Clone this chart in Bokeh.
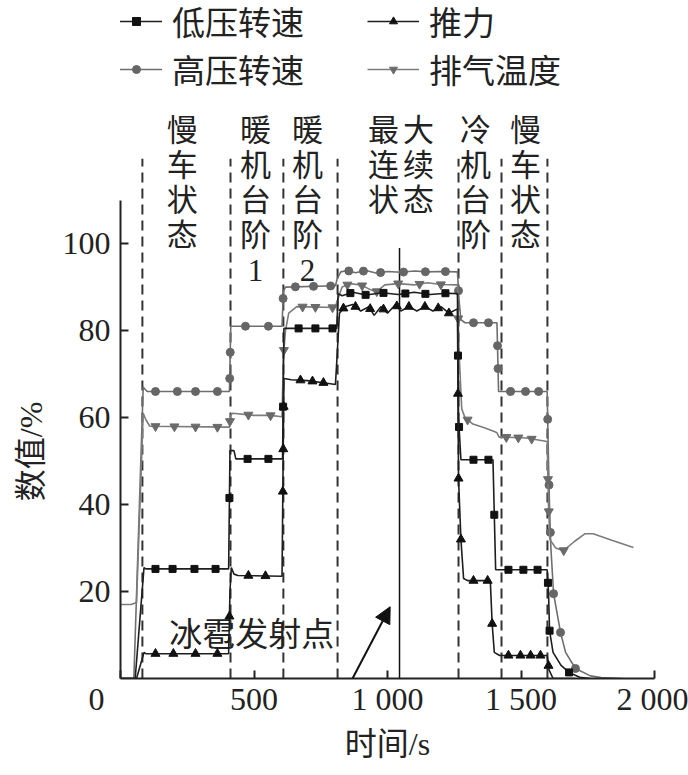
import numpy as np
from bokeh.plotting import figure
from bokeh.models import (Range1d, FixedTicker, Legend, LegendItem, Arrow, NormalHead)
from bokeh.core.properties import value
from bokeh.embed import file_html
from bokeh.resources import INLINE

MIX = "Liberation Serif, Noto Sans CJK SC"
SERIF = "Liberation Serif"

# ---------------- data (time in s, value in %) ----------------
lp_t = [0, 55, 88, 95, 405, 410, 425, 432, 607, 612, 810, 815, 830, 870, 920, 980, 1040, 1100, 1160, 1220, 1262,
        1266, 1275, 1395, 1405, 1598, 1603, 1607, 1620, 1650, 1680, 1720, 1760]
lp_v = [0, 0, 25.5, 25.2, 25.2, 52.4, 52.4, 50.5, 50.5, 80.5, 80.5, 88.5, 88.0, 88.8, 88.2, 88.7, 88.3, 88.8, 88.3, 88.6, 88.5,
        60, 50.3, 50.3, 25, 25, 20, 11, 6, 3, 1.4, 0.3, 0]
lp_mark_t = [131, 195, 277, 356, 408, 476, 554, 609, 667, 730, 794, 861, 918, 985, 1067, 1142, 1217, 1264, 1268,
             1322, 1378, 1400, 1453, 1509, 1562, 1601, 1607, 1680]

hp_t = [0, 50, 85, 92, 100, 408, 413, 605, 610, 618, 805, 812, 825, 850, 880, 920, 960, 1000, 1050, 1100, 1150, 1200, 1262,
        1268, 1275, 1290, 1410, 1416, 1598, 1603, 1607, 1612, 1622, 1648, 1667, 1704, 1760, 1800, 1880]
hp_v = [0, 0, 67, 66.5, 66, 66, 81, 81, 89, 90, 90.3, 92, 93.5, 93.8, 93.3, 93.8, 93.2, 93.6, 93.4, 93.7, 93.5, 93.6, 93.5,
        87, 82.5, 81.8, 81.8, 66, 66, 50, 39, 30, 19.5, 10.6, 6, 2.3, 0.6, 0.2, 0]
hp_mark_t = [131, 213, 281, 363, 409, 411, 468, 554, 609, 655, 723, 787, 855, 910, 974, 1060, 1142, 1217, 1266,
             1322, 1378, 1412, 1414, 1461, 1517, 1566, 1600, 1605, 1610, 1622, 1648, 1704]

et_t = [0, 40, 60, 85, 95, 110, 408, 412, 420, 500, 560, 605, 610, 618, 630, 660, 805, 810, 830, 860, 900, 940, 960, 990,
        1040, 1100, 1150, 1200, 1262, 1268, 1278, 1290, 1320, 1360, 1400, 1410, 1418, 1440, 1520, 1598, 1603, 1608,
        1630, 1659, 1700, 1740, 1770, 1840, 1921]
et_v = [17, 17, 17.5, 61, 59.5, 58, 57.8, 60.5, 61, 60.5, 60.5, 60.2, 74, 80, 84, 85.5, 85.3, 86.5, 90, 90.8, 90.5, 89.3, 89,
        90.5, 90.8, 90.5, 91, 90.6, 90.5, 75, 62, 60, 58.5, 57.7, 56.8, 56.5, 55.5, 55.5, 55.3, 54.5, 40, 32,
        30, 29.4, 31.5, 33.3, 33.3, 31.8, 30.1]
et_mark_t = [131, 202, 281, 363, 410, 479, 562, 612, 682, 730, 794, 850, 905, 960, 1040, 1120, 1200, 1265,
             1300, 1445, 1490, 1540, 1601, 1604, 1660]

th_t = [0, 60, 88, 95, 405, 410, 415, 425, 440, 605, 612, 640, 700, 760, 805, 812, 820, 840, 870, 900, 930, 950, 975,
        1000, 1030, 1050, 1080, 1110, 1140, 1170, 1200, 1230, 1262, 1266, 1275, 1285, 1300, 1385, 1392, 1400, 1420,
        1598, 1605, 1620, 1700]
th_v = [0, 0, 6, 5.7, 5.7, 20, 25.5, 24, 23.7, 23.5, 69, 68.7, 68.5, 68, 67.6, 75, 84, 85.5, 86, 84.5, 85.5, 83.5, 85.5,
        84, 86, 84.5, 85.5, 84.5, 85.5, 84.5, 85.5, 84, 85, 46, 32, 23, 22.5, 22.5, 12.6, 6, 5.3,
        5.3, 2, 0, 0]
th_mark_t = [131, 198, 281, 363, 408, 479, 543, 608, 609.5, 611, 674, 719, 760, 835, 880, 935, 985, 1035, 1080, 1140,
             1190, 1230, 1264, 1266, 1275, 1322, 1375, 1392, 1453, 1498, 1536, 1573, 1603]

series_names = ["低压转速", "高压转速", "推力", "排气温度"]

stage_bounds = [82, 412, 610, 813, 1266, 1427, 1599]
stage_text = ["慢\n车\n状\n态", "暖\n机\n台\n阶\n1", "暖\n机\n台\n阶\n2", "最\n连\n状", "大\n续\n态",
              "冷\n机\n台\n阶", "慢\n车\n状\n态"]
stage_x = [231, 506, 700, 985, 1116, 1330, 1517]

launch_t = 1045
launch_label = "冰雹发射点"

x_ticks = [0, 500, 1000, 1500, 2000]
# the origin label sits left of the corner: pad it with figure spaces
x_tick_labels = {0: "0\u2007\u2007\u2007", 500: "500", 1000: "1 000", 1500: "1 500", 2000: "2 000"}
y_ticks = [20, 40, 60, 80, 100]
# y label centred lower than the frame centre: pad with ideographic spaces
y_label = "数值/%" + "\u3000" * 7

# ---------------- figure ----------------
p = figure(width=688, height=772, output_backend="svg", toolbar_location=None,
           x_range=Range1d(0, 2000), y_range=Range1d(0, 155.9),
           min_border_left=120, min_border_right=34, min_border_top=0, min_border_bottom=94)
p.outline_line_color = None
p.grid.visible = False

for ax in (p.xaxis[0], p.yaxis[0]):
    ax.axis_line_width = 2
    ax.axis_line_color = "#222222"
    ax.major_tick_in = 8
    ax.major_tick_out = 0
    ax.major_tick_line_width = 2
    ax.major_tick_line_color = "#222222"
    ax.minor_tick_line_color = None
    ax.major_label_text_font = SERIF
    ax.major_label_text_font_size = "32px"
    ax.major_label_text_color = "#222222"
    ax.axis_label_text_font = MIX
    ax.axis_label_text_font_size = "32px"
    ax.axis_label_text_font_style = "normal"
    ax.axis_label_text_color = "#222222"

p.xaxis.ticker = FixedTicker(ticks=x_ticks)
p.xaxis.major_label_overrides = x_tick_labels
p.xaxis.bounds = (0, 2000)
p.xaxis.major_label_standoff = 2
p.xaxis.axis_label = "时间/s"
p.xaxis.axis_label_standoff = 6

p.yaxis.ticker = FixedTicker(ticks=y_ticks)
p.yaxis.bounds = (0, 110)
p.yaxis.major_label_standoff = 10
p.yaxis.axis_label = y_label
p.yaxis.axis_label_standoff = 11

# stage separators
p.segment(x0=stage_bounds, y0=[0] * len(stage_bounds), x1=stage_bounds, y1=[119.5] * len(stage_bounds),
          line_color="#333333", line_width=2, line_dash="10 6")

p.text(x=stage_x, y=[130] * len(stage_x), text=stage_text, text_font=value(MIX), text_font_size="31px",
       text_align="center", text_baseline="top", text_line_height=1.0, text_color="#222222")

# launch line, arrow, label
p.segment(x0=[launch_t], y0=[0], x1=[launch_t], y1=[99], line_color="#111111", line_width=1.5)
p.add_layout(Arrow(x_start=869, y_start=0, x_end=1010, y_end=16.5, line_width=2, line_color="#111111",
                   end=NormalHead(size=16, fill_color="#111111", line_color="#111111")))
p.text(x=[492], y=[10.1], text=[launch_label], text_font=value(MIX), text_font_size="33px",
       text_align="center", text_baseline="middle", text_color="#222222")

# series
def draw(t, v, mt, color, mcolor, marker, size):
    ln = p.line(t, v, line_color=color, line_width=1.6)
    my = np.interp(mt, t, v)
    sc = p.scatter(mt, my, marker=marker, size=size, fill_color=mcolor, line_color=mcolor)
    return [ln, sc]

r_hp = draw(hp_t, hp_v, hp_mark_t, "#6e6e6e", "#666666", "circle", 8)
r_et = draw(et_t, et_v, et_mark_t, "#7c7c7c", "#6a6a6a", "inverted_triangle", 9)
r_lp = draw(lp_t, lp_v, lp_mark_t, "#1e1e1e", "#111111", "square", 7)
r_th = draw(th_t, th_v, th_mark_t, "#1e1e1e", "#111111", "triangle", 9)

def mk_legend(items, loc):
    lg = Legend(items=items, location=loc, label_text_font=MIX, label_text_font_size="33px",
                label_text_color="#222222", glyph_width=52, glyph_height=20, label_standoff=10,
                padding=0, margin=0, spacing=-4, border_line_color=None, background_fill_alpha=0)
    p.add_layout(lg)

mk_legend([LegendItem(label=series_names[0], renderers=r_lp),
           LegendItem(label=series_names[1], renderers=r_hp)], (-10, 585))
mk_legend([LegendItem(label=series_names[2], renderers=r_th),
           LegendItem(label=series_names[3], renderers=r_et)], (247, 585))

open("out.html", "w").write(file_html(p, INLINE))
